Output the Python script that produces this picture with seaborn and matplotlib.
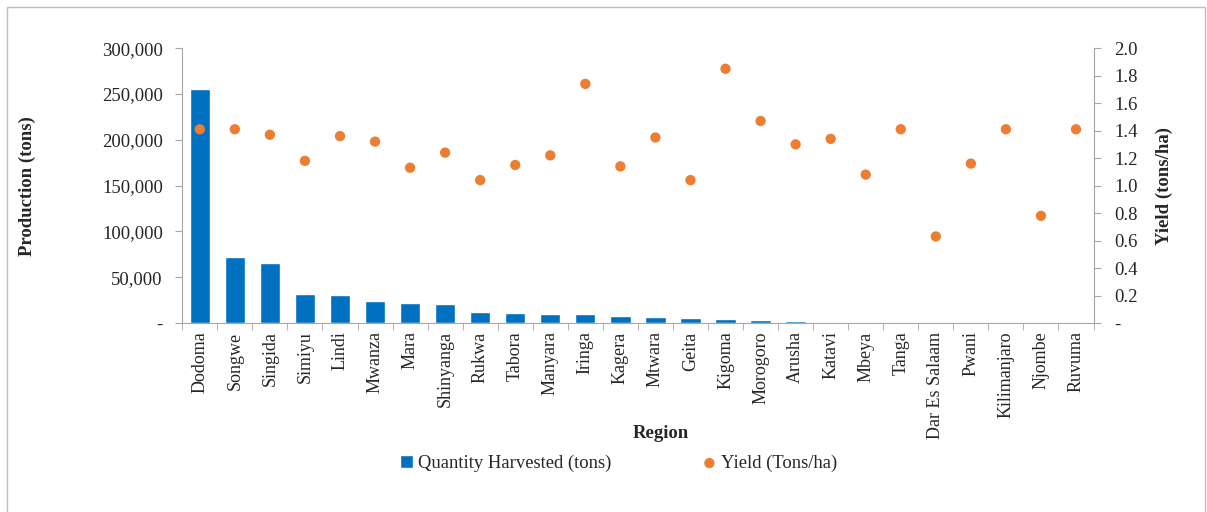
import seaborn as sns
import pandas as pd
import matplotlib.pyplot as plt
from matplotlib.patches import Rectangle
from matplotlib.ticker import FuncFormatter, FixedLocator

regions = ["Dodoma", "Songwe", "Singida", "Simiyu", "Lindi", "Mwanza", "Mara",
           "Shinyanga", "Rukwa", "Tabora", "Manyara", "Iringa", "Kagera", "Mtwara",
           "Geita", "Kigoma", "Morogoro", "Arusha", "Katavi", "Mbeya", "Tanga",
           "Dar Es Salaam", "Pwani", "Kilimanjaro", "Njombe", "Ruvuma"]
quantity = [255000, 72300, 65100, 31600, 30200, 23600, 22200, 20400, 12000, 10500,
            9800, 9800, 8000, 6200, 5200, 4500, 3800, 2200, 1400, 1100,
            700, 500, 400, 300, 200, 100]
yield_ = [1.41, 1.41, 1.37, 1.18, 1.36, 1.32, 1.13, 1.24, 1.04, 1.15,
          1.22, 1.74, 1.14, 1.35, 1.04, 1.85, 1.47, 1.30, 1.34, 1.08,
          1.41, 0.63, 1.16, 1.41, 0.78, 1.41]

df = pd.DataFrame({"Region": regions, "Quantity": quantity, "Yield": yield_})

sns.set_style("white")
plt.rcParams["font.family"] = ["Liberation Serif", "DejaVu Serif"]

fig = plt.figure(figsize=(12.07, 5.12), dpi=100)
ax = fig.add_axes([0.151, 0.369, 0.755, 0.537])
blue = "#0070C0"
orange = "#ED7D31"
grey = "#A6A6A6"

sns.barplot(data=df, x="Region", y="Quantity", color=blue, width=0.58,
            saturation=1, ax=ax, label="Quantity Harvested (tons)")
ax2 = ax.twinx()
sns.scatterplot(x=range(len(regions)), y=df["Yield"], color=orange, s=55,
                edgecolor="none", ax=ax2, label="Yield (Tons/ha)", legend=False)

h1, l1 = ax.get_legend_handles_labels()
h2, l2 = ax2.get_legend_handles_labels()
if ax.get_legend() is not None:
    ax.get_legend().remove()

ax.set_xlim(-0.5, len(regions) - 0.5)
ax.set_ylim(0, 300000)
ax.set_yticks(range(0, 300001, 50000))
ax.yaxis.set_major_formatter(FuncFormatter(lambda v, p: "-" if v == 0 else f"{int(v):,}"))
ax2.set_ylim(0, 2.0)
ax2.set_yticks([i / 5 for i in range(11)])
ax2.yaxis.set_major_formatter(FuncFormatter(lambda v, p: "-" if v == 0 else f"{v:.1f}"))

for a in (ax, ax2):
    a.spines["top"].set_visible(False)
    for s in ["left", "right", "bottom"]:
        a.spines[s].set_color(grey)
ax.spines["right"].set_visible(False)
ax2.spines["left"].set_visible(False)
ax2.spines["bottom"].set_visible(False)

ax.tick_params(axis="y", direction="out", length=5, color=grey, labelsize=13.5,
               left=True, pad=9)
ax2.tick_params(axis="y", direction="out", length=5, color=grey, labelsize=13.5,
                right=True, pad=10)
ax.set_xticks(range(len(regions)))
ax.set_xticklabels(regions, rotation=90, fontsize=13)
ax.tick_params(axis="x", which="major", length=0, pad=6)
ax.xaxis.set_minor_locator(FixedLocator([i - 0.5 for i in range(len(regions) + 1)]))
ax.tick_params(axis="x", which="minor", length=5, color=grey, bottom=True)

ax.set_xlabel("Region", fontsize=13.5, fontweight="bold")
ax.xaxis.set_label_coords(0.525, -0.37)
ax.set_ylabel("Production (tons)", fontsize=13.5, fontweight="bold")
ax.yaxis.set_label_coords(-0.16, 0.5)
ax2.set_ylabel("Yield (tons/ha)", fontsize=13.5, fontweight="bold")
ax2.yaxis.set_label_coords(1.068, 0.5)

fig.legend(h1 + h2, l1 + l2, loc="center", bbox_to_anchor=(0.5126, 0.095), ncol=2,
           frameon=False, fontsize=13.4, handlelength=0.7, handleheight=0.7,
           handletextpad=0.3, columnspacing=4.9)

fig.patches.append(Rectangle((7 / 1207, -0.01), 1198 / 1207, 1 - 7 / 512 + 0.01,
                             transform=fig.transFigure, fill=False,
                             edgecolor="#BFBFBF", linewidth=1))

fig.savefig("out.png", dpi=100)
